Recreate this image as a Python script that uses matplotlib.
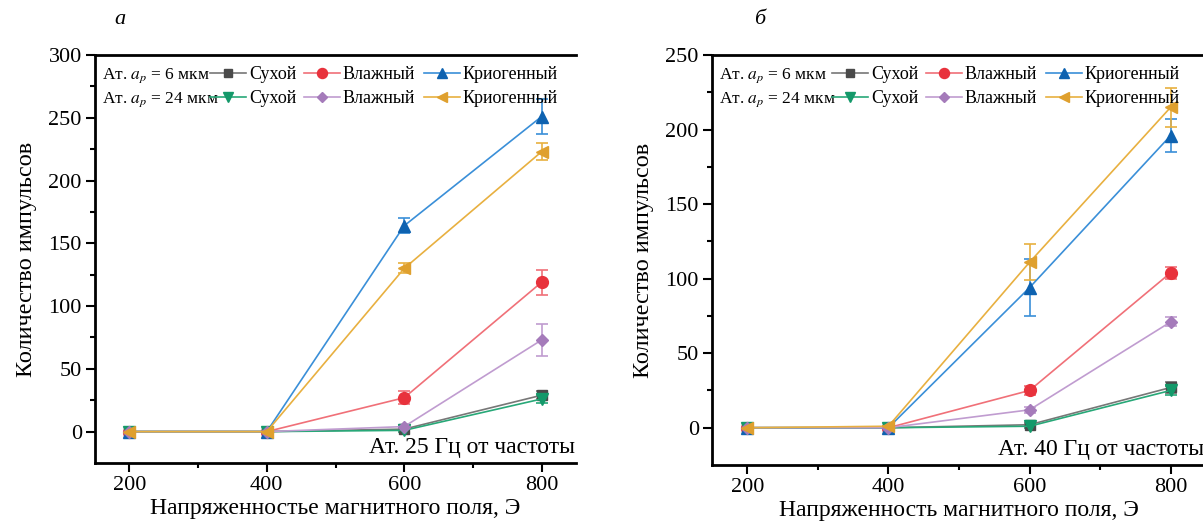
import matplotlib
matplotlib.use("Agg")
import matplotlib.pyplot as plt
from matplotlib.lines import Line2D

plt.rcParams['font.family'] = ['Liberation Serif', 'DejaVu Serif']
plt.rcParams['mathtext.fontset'] = 'stix'

field = [200, 400, 600, 800]

# Panel a: 25 Hz
a_dry6 = [0, 0, 2, 29];      a_dry6_err = [0, 0, 1, 3]
a_wet6 = [0, 0, 27, 119];    a_wet6_err = [0, 0, 5, 10]
a_cryo6 = [0, 0, 164, 251];  a_cryo6_err = [0, 0, 6, 14]
a_dry24 = [0, 0, 1, 26];     a_dry24_err = [0, 0, 1, 3]
a_wet24 = [0, 0, 4, 73];     a_wet24_err = [0, 0, 1, 13]
a_cryo24 = [0, 0, 130, 223]; a_cryo24_err = [0, 0, 4, 7]

# Panel b: 40 Hz
b_dry6 = [0, 0, 2, 27];      b_dry6_err = [0, 0, 1, 4]
b_wet6 = [0, 0, 25, 104];    b_wet6_err = [0, 0, 3, 4]
b_cryo6 = [0, 0, 94, 196];   b_cryo6_err = [0, 0, 19, 11]
b_dry24 = [0, 0, 1, 25];     b_dry24_err = [0, 0, 1, 3]
b_wet24 = [0, 0, 12, 71];    b_wet24_err = [0, 0, 2, 3]
b_cryo24 = [0, 1, 111, 215]; b_cryo24_err = [0, 0, 12, 13]

labels = ['Сухой', 'Влажный', 'Криогенный']
headers = ['Ат. $a_p$ = 6 мкм', 'Ат. $a_p$ = 24 мкм']

styles = [
    dict(marker='s', mfc='#4a4a4a', lc='#777777'),
    dict(marker='o', mfc='#E8323C', lc='#F07078'),
    dict(marker='^', mfc='#0E62B0', lc='#3A8FD8'),
    dict(marker='v', mfc='#14996A', lc='#28A878'),
    dict(marker='D', mfc='#A57BBA', lc='#C09CD0'),
    dict(marker='<', mfc='#DFA02E', lc='#E8B040'),
]
msizes = [6.5, 8.5, 8.5, 8.5, 6.5, 8.5]

W, H = 1203, 523
fig = plt.figure(figsize=(W / 100, H / 100), dpi=100)

def make_axes(left, right, top, bottom):
    return fig.add_axes([left / W, 1 - bottom / H, (right - left) / W, (bottom - top) / H])

def draw(ax, series, errs, ylim, yticks, note):
    for (vals, err), st, ms in zip(zip(series, errs), styles, msizes):
        ax.errorbar(field, vals, yerr=err, color=st['lc'], lw=1.2,
                    marker=st['marker'], mfc=st['mfc'], mec=st['mfc'], ms=ms,
                    ecolor=st['lc'], elinewidth=1.2, capsize=4, capthick=1.2)
    ax.set_xlim(150, 850)
    ax.set_ylim(*ylim)
    ax.set_xticks([200, 400, 600, 800])
    ax.set_xticks([300, 500, 700], minor=True)
    ax.set_yticks(yticks)
    ax.set_yticks([v + 25 for v in yticks[:-1]], minor=True)
    ax.tick_params(which='major', direction='out', length=6.5, width=1.5, labelsize=16, pad=3)
    ax.tick_params(which='minor', direction='out', length=3.5, width=1.5)
    for s in ['left', 'bottom', 'top']:
        ax.spines[s].set_linewidth(2)
    ax.spines['right'].set_visible(False)
    ax.set_ylabel('Количество импульсов', fontsize=17.5, labelpad=8)
    ax.text(0.997, 0.012, note, transform=ax.transAxes, ha='right', va='bottom', fontsize=17)

    handles = [Line2D([], [], color=st['lc'], lw=1.2, marker=st['marker'],
                      mfc=st['mfc'], mec=st['mfc'], ms=ms * 0.85)
               for st, ms in zip(styles, msizes)]
    order = [0, 3, 1, 4, 2, 5]
    hs = [handles[i] for i in order]
    ls = [labels[i % 3] for i in order]
    return hs, ls

# Panel a
ax1 = make_axes(95, 576, 55, 463)
hs, ls = draw(ax1, [a_dry6, a_wet6, a_cryo6, a_dry24, a_wet24, a_cryo24],
              [a_dry6_err, a_wet6_err, a_cryo6_err, a_dry24_err, a_wet24_err, a_cryo24_err],
              (-25, 300), [0, 50, 100, 150, 200, 250, 300],
              'Ат. 25 Гц от частоты')
ax1.set_xlabel('Напряженностье магнитного поля, Э', fontsize=17, labelpad=2)
fig.text(120 / W, 1 - 20 / H, 'а', fontsize=16, style='italic', ha='center', va='center')

# Panel b
ax2 = make_axes(712, 1206, 55, 465)
hs2, ls2 = draw(ax2, [b_dry6, b_wet6, b_cryo6, b_dry24, b_wet24, b_cryo24],
                [b_dry6_err, b_wet6_err, b_cryo6_err, b_dry24_err, b_wet24_err, b_cryo24_err],
                (-25, 250), [0, 50, 100, 150, 200, 250],
                'Ат. 40 Гц от частоты')
ax2.set_xlabel('Напряженность магнитного поля, Э', fontsize=17, labelpad=2)
fig.text(760 / W, 1 - 20 / H, 'б', fontsize=16, style='italic', ha='center', va='center')

for ax, h, l, x0, xl, y0, yb, hx in [(ax1, hs, ls, 95, 576, 55, 463, 210),
                                     (ax2, hs2, ls2, 712, 1206, 55, 465, 832)]:
    w = xl - x0
    hgt = yb - y0
    ax.text(7 / w, (yb - 76) / hgt, headers[0], transform=ax.transAxes,
            fontsize=12.5, ha='left', va='center')
    ax.text(7 / w, (yb - 100) / hgt, headers[1], transform=ax.transAxes,
            fontsize=12.5, ha='left', va='center')
    ax.legend(h, l, ncol=3, loc='upper left',
              bbox_to_anchor=((hx - x0) / w, (yb - 66) / hgt), frameon=False, fontsize=13,
              handlelength=2.0, handletextpad=0.15, columnspacing=0.45,
              labelspacing=0.4, borderaxespad=0, borderpad=0)

fig.savefig('out.png', dpi=100)
